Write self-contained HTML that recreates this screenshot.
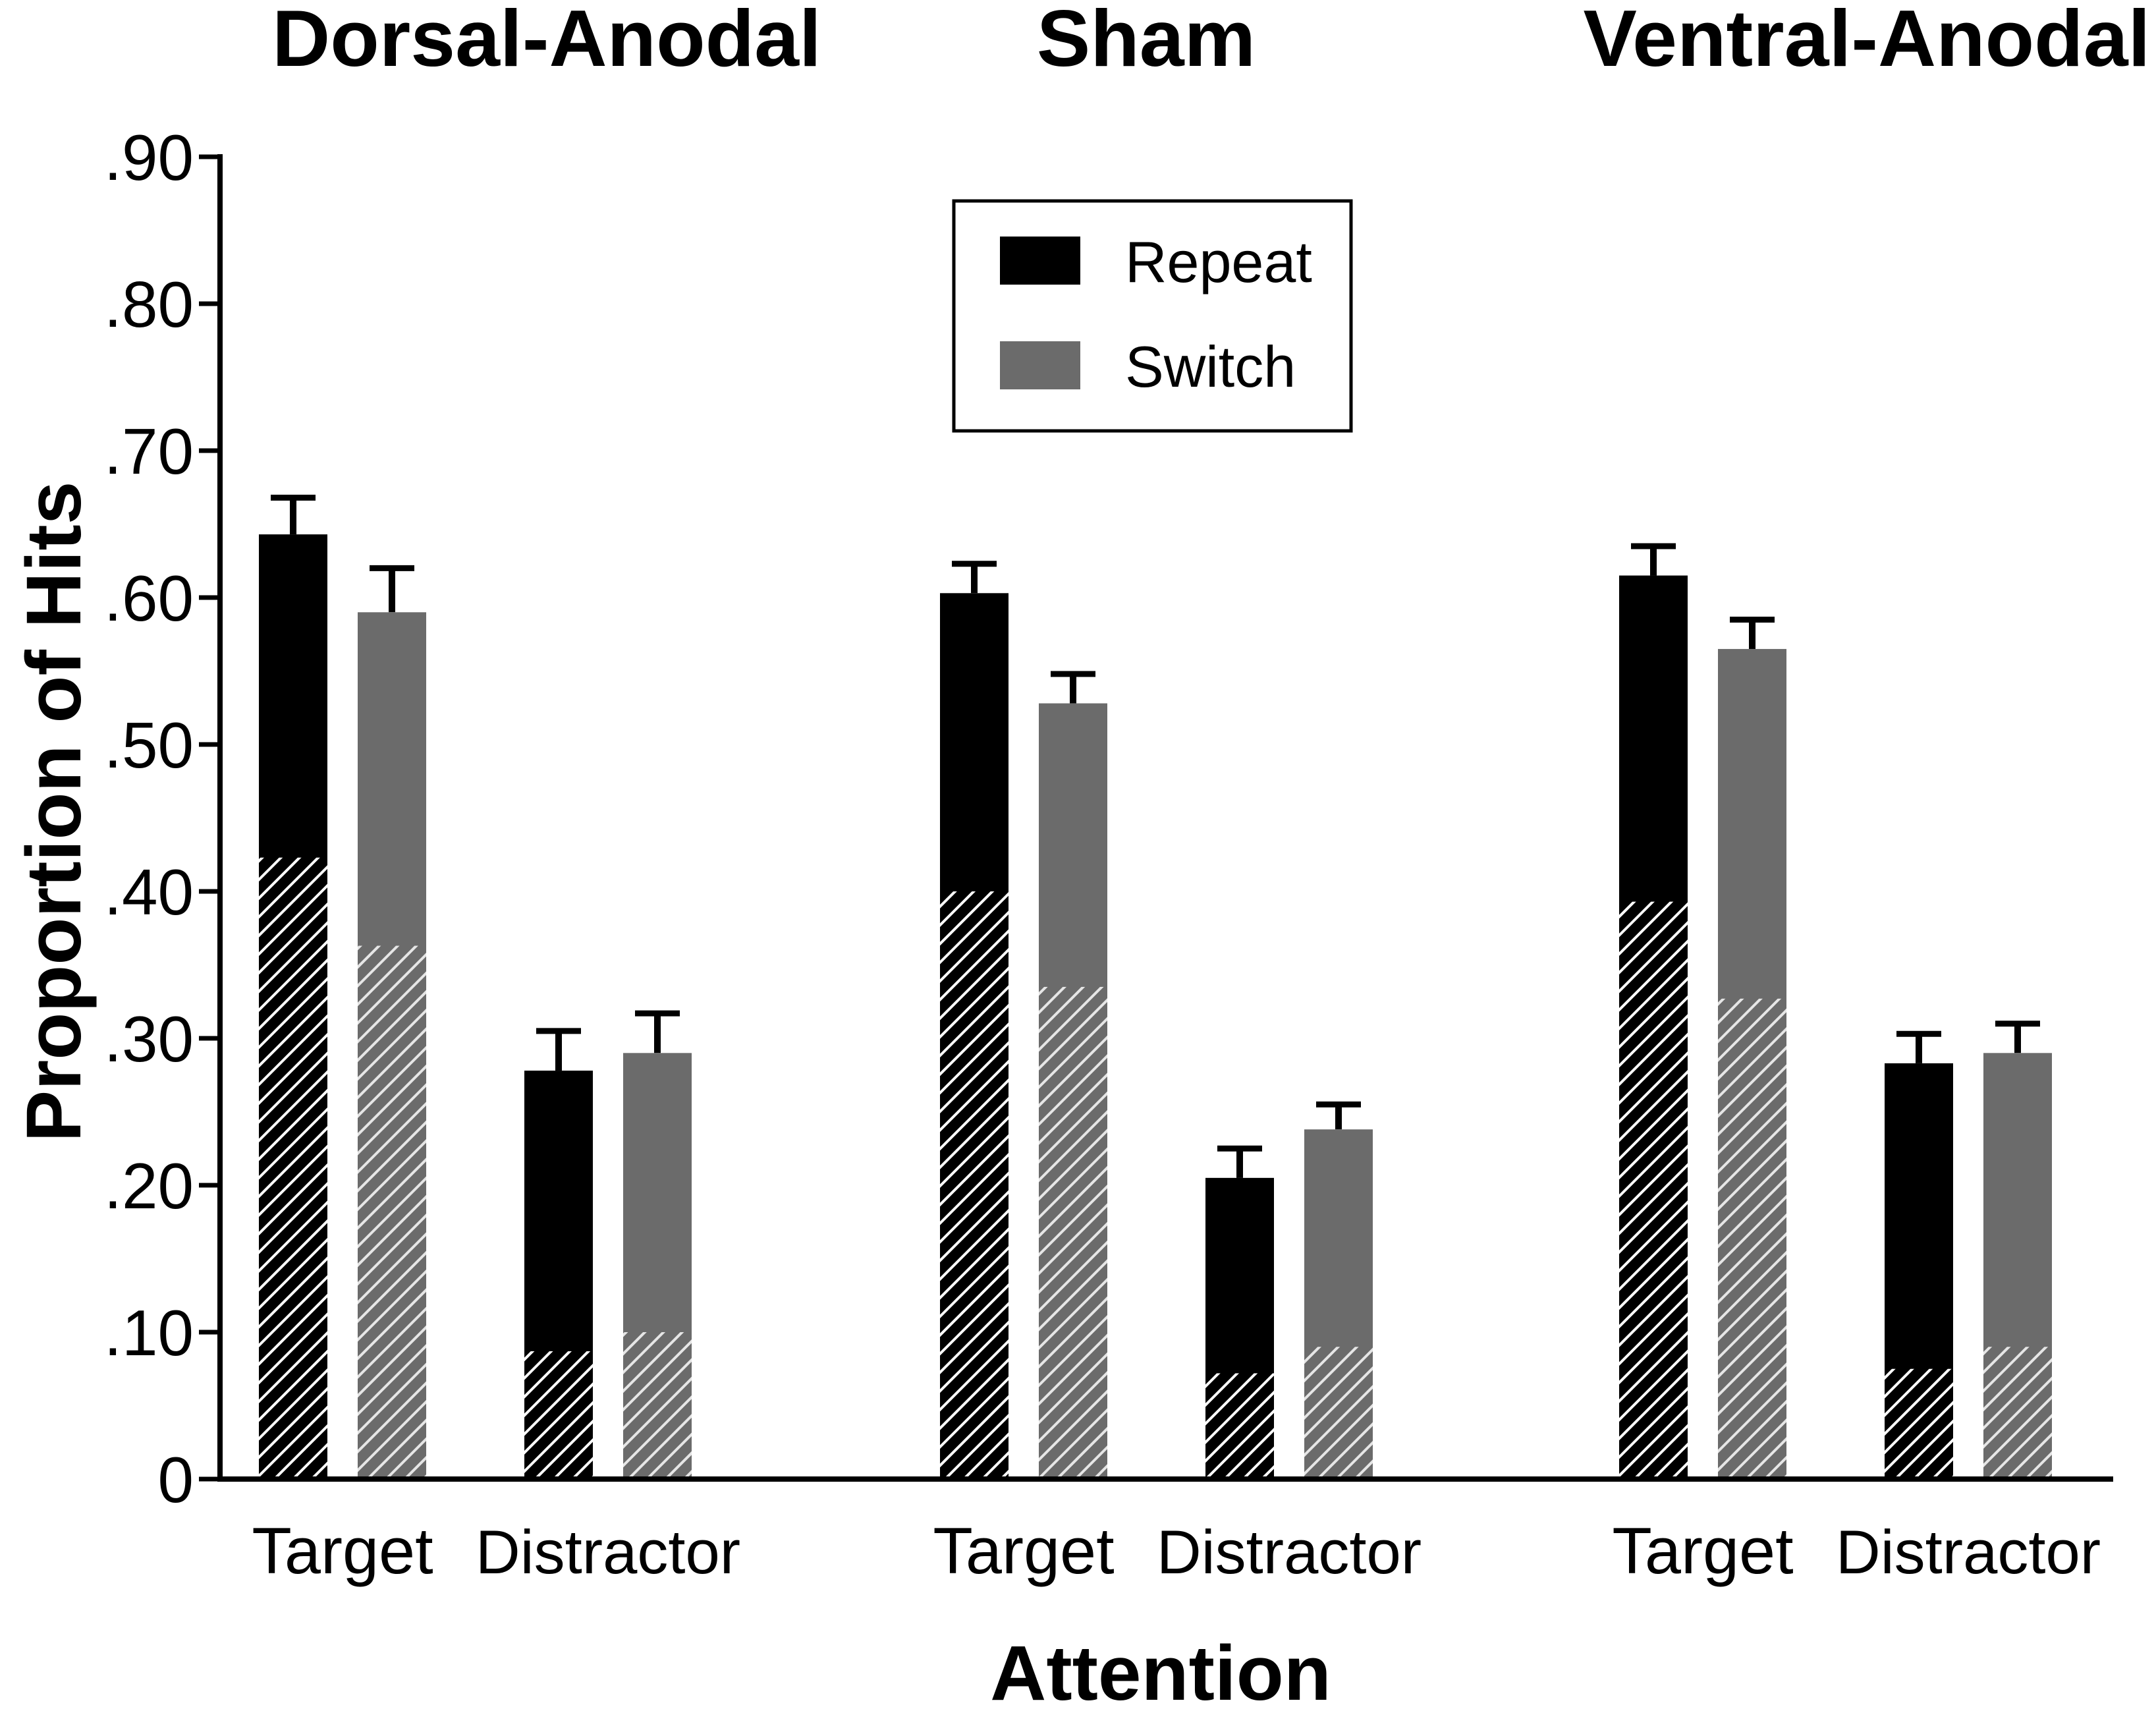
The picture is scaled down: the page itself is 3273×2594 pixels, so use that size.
<!DOCTYPE html>
<html><head><meta charset="utf-8"><style>
html,body{margin:0;padding:0;background:#fff;}
svg{display:block;}
text{font-family:"Liberation Sans",Arial,sans-serif;}
</style></head><body>
<svg id="chart" width="3273" height="2594" viewBox="0 0 3273 2594" xmlns="http://www.w3.org/2000/svg">
<defs>
<pattern id="hatchK" patternUnits="userSpaceOnUse" width="20" height="20" patternTransform="rotate(45)">
<rect width="20" height="20" fill="#000"/><rect x="0" y="0" width="4" height="20" fill="#fff"/></pattern>
<pattern id="hatchG" patternUnits="userSpaceOnUse" width="20" height="20" patternTransform="rotate(45)">
<rect width="20" height="20" fill="#6b6b6b"/><rect x="0" y="0" width="4" height="20" fill="#e6e6e6"/></pattern>
</defs>
<g id="marks"></g>
<g id="axes"></g>
<text x="830" y="100" font-size="122" font-weight="bold" text-anchor="middle">Dorsal-Anodal</text>
<text x="1740" y="100" font-size="122" font-weight="bold" text-anchor="middle">Sham</text>
<text x="2834" y="100" font-size="122" font-weight="bold" text-anchor="middle">Ventral-Anodal</text>
<text transform="translate(122,1232) rotate(-90)" font-size="118" font-weight="bold" text-anchor="middle">Proportion of Hits</text>
<text x="1762" y="2580" font-size="118" font-weight="bold" text-anchor="middle">Attention</text>
<g>
<rect x="1448" y="305" width="603" height="349" fill="#fff" stroke="#000" stroke-width="5"/>
<rect x="1518" y="359" width="122" height="73" fill="#000"/>
<text x="1708" y="428" font-size="88">Repeat</text>
<rect x="1518" y="518" width="122" height="73" fill="#6b6b6b"/>
<text x="1708" y="587" font-size="88">Switch</text>
</g>
</svg>
<script>
const ticks=[0,0.1,0.2,0.3,0.4,0.5,0.6,0.7,0.8,0.9];
const tickLabels=["0",".10",".20",".30",".40",".50",".60",".70",".80",".90"];
const groups=["Dorsal-Anodal","Sham","Ventral-Anodal"];
const conditions=["Target","Distractor"];
const repeatValues=[0.643,0.278,0.603,0.205,0.615,0.283];
const repeatErrors=[0.025,0.027,0.020,0.020,0.020,0.020];
const repeatHatch=[0.423,0.087,0.400,0.072,0.393,0.075];
const switchValues=[0.590,0.290,0.528,0.238,0.565,0.290];
const switchErrors=[0.030,0.027,0.020,0.017,0.020,0.020];
const switchHatch=[0.363,0.100,0.335,0.090,0.327,0.090];

const NS="http://www.w3.org/2000/svg";
const y0=2245,yPerUnit=2230,axX=334;
function y(v){return y0-v*yPerUnit;}
const groupStart=[393,1427,2458],condOffset=[0,403],pairOffset=150,barW=104;
function barX(i,s){const g=Math.floor(i/2),c=i%2;return groupStart[g]+condOffset[c]+s*pairOffset;}
function mk(tag,attrs,parent){const e=document.createElementNS(NS,tag);for(const k in attrs)e.setAttribute(k,attrs[k]);parent.appendChild(e);return e;}
const marks=document.getElementById('marks'),axes=document.getElementById('axes');
const series=[{v:repeatValues,e:repeatErrors,h:repeatHatch,fill:"#000",hatch:"url(#hatchK)",name:"repeat"},
{v:switchValues,e:switchErrors,h:switchHatch,fill:"#6b6b6b",hatch:"url(#hatchG)",name:"switch"}];
series.forEach((s,si)=>{
 s.v.forEach((v,i)=>{
  const x=barX(i,si),cx=x+barW/2;
  const err=mk('line',{x1:cx,x2:cx,y1:y(v),y2:y(v+s.e[i]),stroke:"#000","stroke-width":10},marks);
  
  
  const cap=mk('line',{x1:cx-34,x2:cx+34,y1:y(v+s.e[i]),y2:y(v+s.e[i]),stroke:"#000","stroke-width":9},marks);
  
  
  const b=mk('rect',{x:x,y:y(v),width:barW,height:y0-y(v),fill:s.fill},marks);
  
  
  const h=mk('rect',{x:x,y:y(s.h[i]),width:barW,height:y0-y(s.h[i]),fill:s.hatch},marks);
  
  
 });
});
const ya=mk('line',{x1:axX,x2:axX,y1:y(0.9)-4,y2:y0+4,stroke:"#000","stroke-width":8},axes);


const xa=mk('line',{x1:axX-4,x2:3208,y1:y0,y2:y0,stroke:"#000","stroke-width":8},axes);


ticks.forEach((t,i)=>{
 const tl=mk('line',{x1:axX-32,x2:axX,y1:y(t),y2:y(t),stroke:"#000","stroke-width":7},axes);
 
 
 const tx=mk('text',{x:axX-40,y:y(t)+35,"font-size":98,"text-anchor":"end"},axes);
 tx.textContent=tickLabels[i];
 
 
});
groups.forEach((g,gi)=>{conditions.forEach((c,ci)=>{
 const i=gi*2+ci;const cx=(barX(i,0)+barX(i,1)+barW)/2;
 const t=mk('text',{x:cx,y:2388,"font-size":ci==0?99:94,"text-anchor":"middle"},axes);
 t.textContent=c;
 
 
});});
</script>
</body></html>
